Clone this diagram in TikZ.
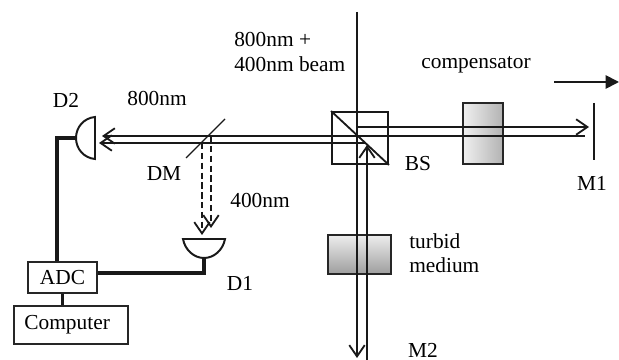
\documentclass[tikz,border=0pt]{standalone}
\usepackage{fontspec}
\setmainfont{Liberation Serif}
\usetikzlibrary{arrows.meta, positioning, calc}

\begin{document}
\begin{tikzpicture}[
  x=0.025cm, y=-0.025cm,
  lab/.style={font=\fontsize{15.2}{17}\selectfont, inner sep=0pt, align=left},
  elecbox/.style={
    draw=black!85, fill=white, line width=0.8pt,
    font=\fontsize{15.2}{18}\selectfont, inner sep=0pt
  },
  optbox/.style={draw=black!85, line width=1.5pt, inner sep=0pt},
  beam/.style={line width=1.15pt, black!90},
  beamarr/.style={beam, -{Straight Barb[length=8pt, width=11pt, line width=1.3pt]}},
  dasharr/.style={beamarr, dash pattern=on 4.5pt off 2.5pt},
  wire/.style={line width=2.6pt, black!90, line join=miter},
  detector/.style={draw=black!90, line width=1.4pt, fill=white}
]
\useasboundingbox (0,0) rectangle (619,360);

%% Optical elements
\node[optbox, minimum width=1.0cm, minimum height=1.525cm,
      left color=black!6, right color=black!30] (comp) at (483,133.5) {};
\node[optbox, minimum width=1.575cm, minimum height=0.975cm,
      top color=black!7, bottom color=black!38] (turbid) at (359.5,254.5) {};
\node[draw=black!90, line width=1.3pt, minimum width=1.4cm, minimum height=1.3cm,
      inner sep=0pt] (bs) at (360,138) {};
\draw[line width=1.3pt, black!90] (bs.north west) -- (bs.south east);

%% Beam paths
\coordinate (src) at (357,12);
\coordinate (split) at (357,136);
\coordinate (m2) at (357,358);
\coordinate (back) at (367,360);
\coordinate (backtip) at (367,145);
\coordinate (upstart) at (357,127);
\coordinate (uptip) at (589,127);
\coordinate (lowend) at (585,136);
\coordinate (d2up) at (102,136);
\coordinate (d2low) at (99,143);
\coordinate (lowstart) at (365,143);

\draw[beam] (src) -- (split);
\draw[beamarr] (split) -- (m2);
\draw[beamarr] (back) -- (backtip);
\draw[beamarr] (upstart) -- (uptip);
\draw[beam] (split) -- (lowend);
\draw[beamarr] (split) -- (d2up);
\draw[beamarr] (lowstart) -- (d2low);

%% Dichroic mirror and the 400nm beams
\coordinate (dma) at (186,158);
\coordinate (dmb) at (225,119);
\draw[line width=1pt, black!90] (dma) -- (dmb);
\draw[dasharr] (202,143) -- (202,235);
\draw[dasharr] (211,136) -- (211,228);

%% Mirror M1 and translation arrow
\coordinate (m1a) at (594,103);
\coordinate (m1b) at (594,160);
\draw[line width=1.3pt, black!90] (m1a) -- (m1b);
\coordinate (mva) at (554,82);
\coordinate (mvb) at (619,82);
\draw[line width=1.3pt, black!90, -{Triangle[length=9.5pt, width=9.5pt]}] (mva) -- (mvb);

%% Detectors
\draw[detector] (95,117) .. controls (84,118) and (76,127) .. (76,138)
  .. controls (76,149) and (84,158) .. (95,159) -- cycle;
\draw[detector] (183,239) .. controls (185,250) and (194,258) .. (204,258)
  .. controls (214,258) and (223,250) .. (225,239) -- cycle;
\coordinate (d2back) at (76,138);
\coordinate (d1back) at (204,258);

%% Electronics
\node[elecbox, minimum width=1.725cm, minimum height=0.775cm] (adc) at (62.5,277.5) {ADC};
\node[elecbox, minimum width=2.85cm, minimum height=0.95cm] (computer) at (71,325) {Computer\kern5.5pt};

\draw[wire] (d2back) -| (adc.north -| 57,0);
\draw[wire] (d1back) |- (adc.east |- 0,273);
\draw[wire] (adc.south) -- (computer.north -| adc.south);

%% Labels
\node[lab] (d2lab) at (66,100) {D2};
\node[lab] (lab800) at (157,98) {800nm};
\node[lab, anchor=north west] (beamlab) at (234,32) {800nm +\\[1pt]400nm beam};
\node[lab] (complab) at (476,65) {compensator};
\node[lab] (bslab) at (418,164) {BS};
\node[lab] (m1lab) at (592,183) {M1};
\node[lab] (dmlab) at (164,174) {DM};
\node[lab] (lab400) at (260,200) {400nm};
\node[lab] (d1lab) at (240,283) {D1};
\node[lab, anchor=north west] (turbidlab) at (409,233) {turbid\\medium};
\node[lab] (m2lab) at (423,350) {M2};
\end{tikzpicture}
\end{document}
